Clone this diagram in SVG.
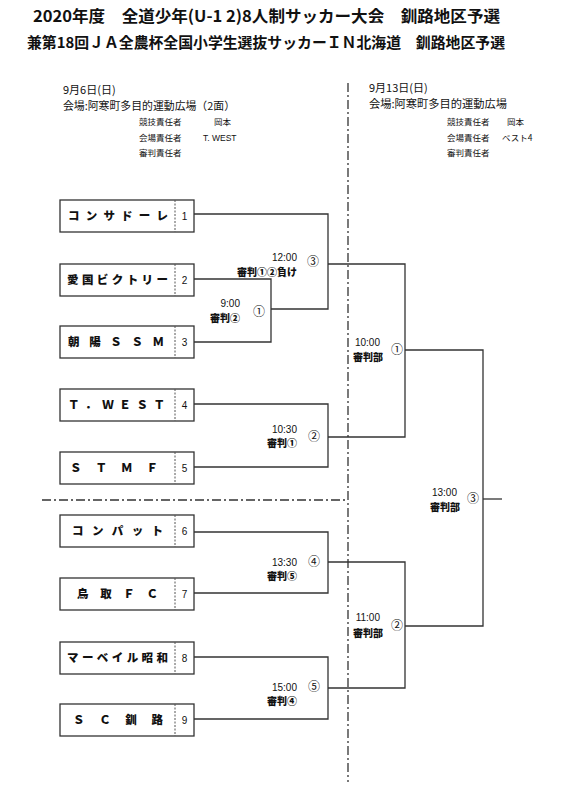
<svg xmlns="http://www.w3.org/2000/svg" width="561" height="788" viewBox="0 0 561 788">
<style>
text{font-family:"Liberation Sans","Noto Sans CJK JP",sans-serif;fill:#111}
.jp{font-family:"Noto Sans CJK JP","Liberation Sans",sans-serif}
.t1{font-size:16px;font-weight:bold}
.t2{font-size:15px;font-weight:bold}
.h{font-size:11px}
.s{font-size:8.5px}
.box{fill:#fff;stroke:#333;stroke-width:1.3}
.div{stroke:#555;stroke-width:1;stroke-dasharray:2 1.5}
.name{font-size:11.5px;font-weight:900;font-family:"Noto Sans CJK JP","Liberation Sans",sans-serif}
.num{font-size:10px;text-anchor:middle}
.line{fill:none;stroke:#333;stroke-width:1.3}
.tm{font-size:10px;text-anchor:end}
.rf{font-size:10px;font-weight:900;text-anchor:end;font-family:"Noto Sans CJK JP","Liberation Sans",sans-serif}
.cn{font-size:12px;text-anchor:middle;font-family:"Noto Sans CJK JP","Liberation Sans",sans-serif}
.dash{fill:none;stroke:#333;stroke-width:1.3;stroke-dasharray:9 3 2 3}
</style>
<g id="header">
<text class="t1 jp" x="33" y="22" textLength="467" lengthAdjust="spacingAndGlyphs">2020年度　全道少年(U-1 2)8人制サッカー大会　釧路地区予選</text>
<text class="t2 jp" x="27" y="48" textLength="478" lengthAdjust="spacingAndGlyphs">兼第18回ＪＡ全農杯全国小学生選抜サッカーＩＮ北海道　釧路地区予選</text>
<text class="h jp" x="63" y="94">9月6日(日)</text>
<text class="h jp" x="63" y="110" textLength="172" lengthAdjust="spacingAndGlyphs">会場:阿寒町多目的運動広場（2面）</text>
<text class="s jp" x="139" y="125">競技責任者</text>
<text class="s jp" x="214" y="125">岡本</text>
<text class="s jp" x="139" y="141">会場責任者</text>
<text class="s" x="203" y="141">T. WEST</text>
<text class="s jp" x="139" y="156">審判責任者</text>
<text class="h jp" x="369" y="92">9月13日(日)</text>
<text class="h jp" x="369" y="108" textLength="138" lengthAdjust="spacingAndGlyphs">会場:阿寒町多目的運動広場</text>
<text class="s jp" x="447" y="125">競技責任者</text>
<text class="s jp" x="507" y="125">岡本</text>
<text class="s jp" x="447" y="141">会場責任者</text>
<text class="s jp" x="502" y="141">ベスト4</text>
<text class="s jp" x="447" y="156">審判責任者</text>
</g>
<g id="separators">
<line class="dash" x1="348" y1="83" x2="348" y2="782"/>
<line class="dash" x1="42" y1="500" x2="348" y2="500"/>
</g>
<g id="connectors">
<polyline class="line" points="194,214 328,214 328,309 271,309"/>
<polyline class="line" points="194,279 271,279 271,342 194,342"/>
<polyline class="line" points="194,404 328,404 328,467 194,467"/>
<polyline class="line" points="194,532 328,532 328,593 194,593"/>
<polyline class="line" points="194,657 328,657 328,719 194,719"/>
<polyline class="line" points="328,264 405,264 405,437 328,437"/>
<polyline class="line" points="328,562 405,562 405,688 328,688"/>
<polyline class="line" points="405,350 483,350 483,626 405,626"/>
<line class="line" x1="483" y1="499" x2="502" y2="499"/>
</g>
<g id="team1"><rect class="box" x="60" y="200" width="134" height="32"/><line class="div" x1="175" y1="200" x2="175" y2="232"/><text class="name" x="68" y="220" textLength="100" lengthAdjust="spacing">コンサドーレ</text><text class="num" x="184.5" y="220">1</text></g>
<g id="team2"><rect class="box" x="60" y="264" width="134" height="32"/><line class="div" x1="175" y1="264" x2="175" y2="296"/><text class="name" x="67" y="284" textLength="101" lengthAdjust="spacing">愛国ビクトリー</text><text class="num" x="184.5" y="284">2</text></g>
<g id="team3"><rect class="box" x="60" y="326" width="134" height="32"/><line class="div" x1="175" y1="326" x2="175" y2="358"/><text class="name" x="68" y="346" textLength="96" lengthAdjust="spacing">朝陽ＳＳＭ</text><text class="num" x="184.5" y="346">3</text></g>
<g id="team4"><rect class="box" x="60" y="389" width="134" height="32"/><line class="div" x1="175" y1="389" x2="175" y2="421"/><text class="name" x="68" y="409" textLength="97" lengthAdjust="spacing">Ｔ．ＷＥＳＴ</text><text class="num" x="184.5" y="409">4</text></g>
<g id="team5"><rect class="box" x="60" y="452" width="134" height="32"/><line class="div" x1="175" y1="452" x2="175" y2="484"/><text class="name" x="70" y="472" textLength="88" lengthAdjust="spacing">ＳＴＭＦ</text><text class="num" x="184.5" y="472">5</text></g>
<g id="team6"><rect class="box" x="60" y="515" width="134" height="32"/><line class="div" x1="175" y1="515" x2="175" y2="547"/><text class="name" x="72" y="535" textLength="91" lengthAdjust="spacing">コンパット</text><text class="num" x="184.5" y="535">6</text></g>
<g id="team7"><rect class="box" x="60" y="578" width="134" height="32"/><line class="div" x1="175" y1="578" x2="175" y2="610"/><text class="name" x="77" y="598" textLength="81" lengthAdjust="spacing">鳥取ＦＣ</text><text class="num" x="184.5" y="598">7</text></g>
<g id="team8"><rect class="box" x="60" y="642" width="134" height="32"/><line class="div" x1="175" y1="642" x2="175" y2="674"/><text class="name" x="67" y="662" textLength="101" lengthAdjust="spacing">マーベイル昭和</text><text class="num" x="184.5" y="662">8</text></g>
<g id="team9"><rect class="box" x="60" y="704" width="134" height="32"/><line class="div" x1="175" y1="704" x2="175" y2="736"/><text class="name" x="73" y="724" textLength="90" lengthAdjust="spacing">ＳＣ釧路</text><text class="num" x="184.5" y="724">9</text></g>
<g id="match-r1-1"><text class="tm" x="240" y="307">9:00</text><text class="rf" x="240" y="322">審判②</text><text class="cn" x="259" y="316">①</text></g>
<g id="match-r1-3"><text class="tm" x="297" y="261">12:00</text><text class="rf" x="297" y="276">審判①②負け</text><text class="cn" x="313" y="266">③</text></g>
<g id="match-r1-2"><text class="tm" x="297" y="433">10:30</text><text class="rf" x="297" y="447">審判①</text><text class="cn" x="314" y="441">②</text></g>
<g id="match-r1-4"><text class="tm" x="297" y="566">13:30</text><text class="rf" x="297" y="580">審判⑤</text><text class="cn" x="314" y="566">④</text></g>
<g id="match-r1-5"><text class="tm" x="297" y="691">15:00</text><text class="rf" x="297" y="705">審判④</text><text class="cn" x="314" y="691">⑤</text></g>
<g id="match-r2-1"><text class="tm" x="380" y="346">10:00</text><text class="rf" x="383" y="361">審判部</text><text class="cn" x="397" y="354">①</text></g>
<g id="match-r2-2"><text class="tm" x="380" y="621">11:00</text><text class="rf" x="383" y="637">審判部</text><text class="cn" x="397" y="630">②</text></g>
<g id="match-final"><text class="tm" x="457" y="496">13:00</text><text class="rf" x="460" y="511">審判部</text><text class="cn" x="473" y="503">③</text></g>
</svg>
